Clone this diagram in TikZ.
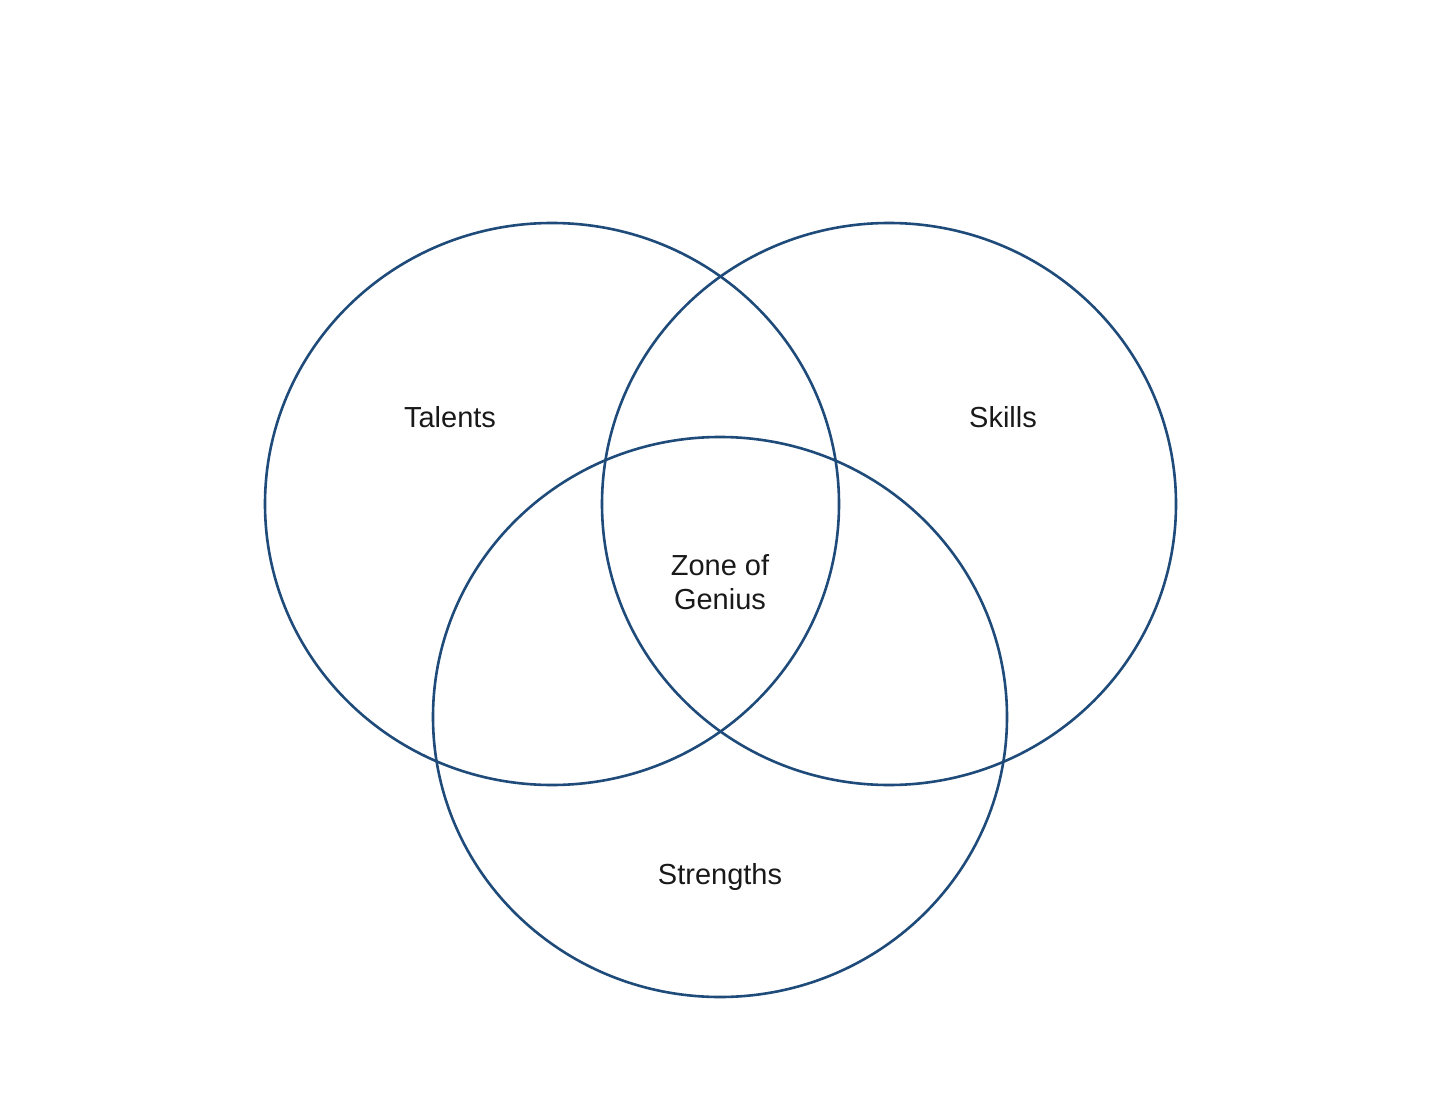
\documentclass[tikz,border=0pt]{standalone}
\usepackage{fontspec}
\setmainfont{Liberation Sans}
\definecolor{ring}{HTML}{1F4B7A}
\begin{document}
\begin{tikzpicture}[x=1pt,y=-1pt,
  ring/.style={draw=ring,line width=2.6pt},
  lbl/.style={font=\fontsize{29}{34}\selectfont,align=center,text=black!90}]
\useasboundingbox (0,0) rectangle (1436,1094);
\draw[ring] (552,504) ellipse [x radius=287, y radius=281];
\draw[ring] (889,504) ellipse [x radius=287, y radius=281];
\draw[ring] (720,717) ellipse [x radius=287, y radius=280];
\node[lbl] (talents) at (450,417) {Talents};
\node[lbl] (skills) at (1003,417) {Skills};
\node[lbl] (zone) at (720,582) {Zone of\\Genius};
\node[lbl] (strengths) at (720,877) {Strengths};
\end{tikzpicture}
\end{document}
